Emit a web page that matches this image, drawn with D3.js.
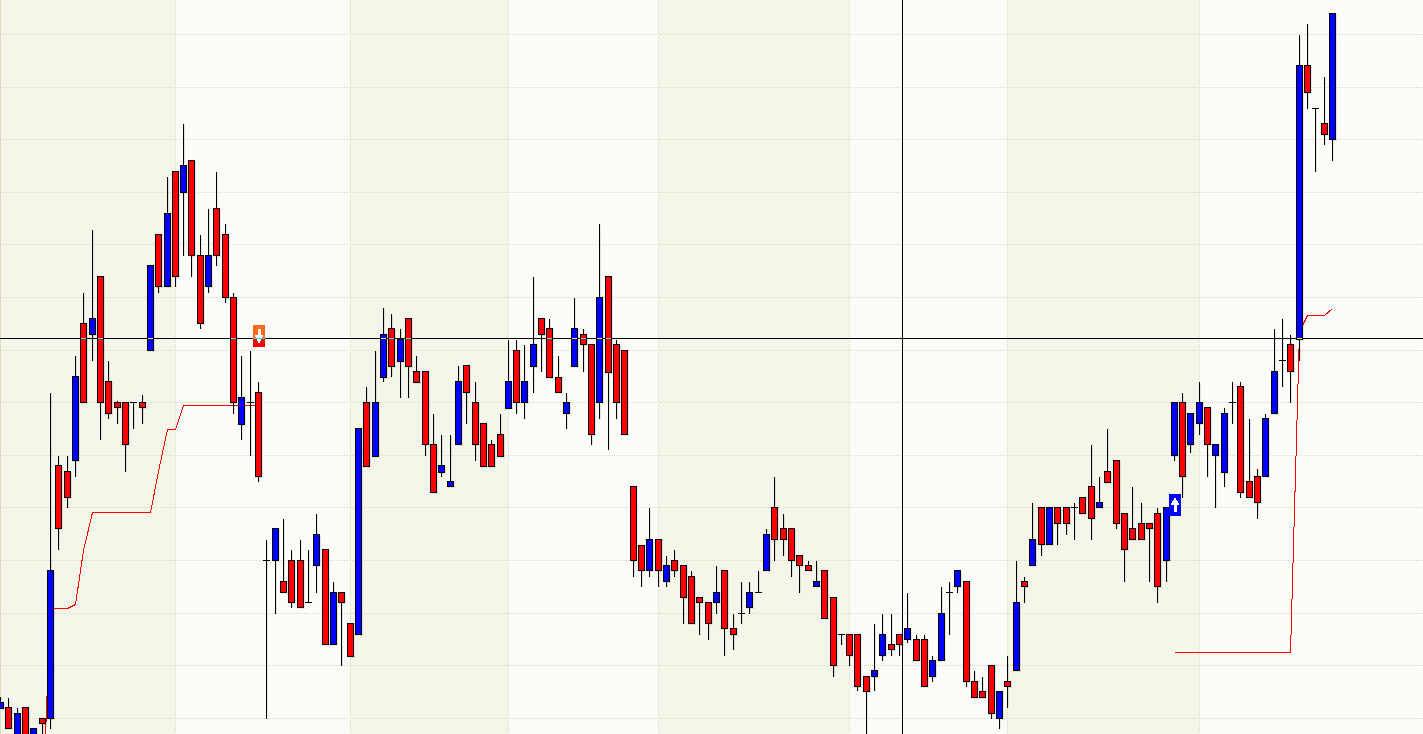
<!DOCTYPE html>
<html><head><meta charset="utf-8">
<style>html,body{margin:0;padding:0;background:#fbfcf7;overflow:hidden}svg{display:block}</style>
<script src="https://cdn.jsdelivr.net/npm/d3@7/dist/d3.min.js"></script></head>
<body><svg id="c" width="1423" height="734" shape-rendering="crispEdges"></svg>
<script>
const opens=[10,11,-30,11,-42,0,0,253,247,258,395,384,442,337,316,316,316,316,368,484,432,547,526,558,463,432,510,484,421,294,316,326,158,158,137,158,158,116,153,169,74,126,95,84,316,262,341,390,357,400,347,347,274,246,232,274,353,316,295,274,284,310,368,316,352,400,390,341,305,352,384,374,316,442,374,368,232,173,148,179,137,158,153,142,121,116,116,148,90,105,111,126,148,211,190,190,163,153,132,148,121,84,84,84,42,42,63,74,84,79,79,79,42,58,126,132,137,37,27,53,0,37,48,137,153,211,174,211,211,211,221,232,211,247,258,205,190,195,195,205,158,263,316,274,295,311,263,246,316,332,237,242,242,305,358,374,379,653,610,595,579];
const closes=[16,-10,5,-35,-10,-5,148,190,221,342,316,400,316,305,311,274,316,311,453,432,505,442,553,463,395,463,463,421,316,321,316,242,158,190,126,116,111,116,184,74,126,116,62,290,252,316,384,352,379,352,336,274,226,253,237,337,326,274,252,252,262,337,316,337,374,384,341,326,316,390,374,284,421,346,316,284,158,148,179,148,153,148,121,95,116,95,126,90,84,105,126,126,184,179,179,158,153,148,137,100,53,84,63,32,27,48,84,69,74,90,58,32,58,105,126,148,37,21,21,5,27,32,116,132,179,174,211,195,195,211,205,200,216,236,195,169,179,179,190,132,211,316,242,305,316,274,274,305,316,226,221,216,300,347,358,347,653,626,610,584,705];
const highs=[21,20,10,11,-10,0,325,262,262,362,425,488,442,357,317,316,316,323,453,484,541,547,594,558,483,509,546,494,425,362,367,336,178,190,199,168,178,168,204,169,136,126,95,290,331,367,410,404,389,400,362,347,304,283,283,352,353,336,295,278,304,378,378,373,441,400,399,362,325,420,389,374,494,442,378,368,232,173,210,179,162,168,153,147,121,116,152,148,104,136,136,147,189,241,204,190,163,157,157,148,121,84,84,84,42,94,104,104,84,125,83,83,62,131,136,148,137,47,41,53,27,62,157,141,215,211,211,211,211,215,221,273,241,289,258,205,231,215,195,210,211,316,325,305,336,311,274,310,336,336,299,249,304,389,399,383,683,694,610,641,705];
const lows=[10,-10,-30,-35,-42,-25,-10,169,211,242,316,358,279,300,295,247,290,295,368,426,432,432,463,442,390,426,453,416,305,279,263,237,0,105,126,111,111,116,126,74,74,53,62,84,252,262,337,342,321,321,336,263,226,242,232,274,295,258,252,252,262,310,305,300,326,347,341,326,290,352,347,274,300,269,300,284,142,132,142,132,132,142,95,95,84,79,105,63,69,95,105,126,148,158,163,142,126,148,132,100,42,74,53,28,-22,28,58,63,63,76,58,32,37,58,84,126,32,21,21,0,-10,11,48,116,153,163,174,174,184,179,205,179,211,236,190,137,179,179,137,116,137,258,221,266,284,242,211,232,295,221,221,200,242,305,332,316,358,610,547,574,558];

const sessionBreaks=[0,21,42,61,79,102,121,144];
const gridLevels=[0,52.6,105.2,157.8,210.4,263,315.6,368.2,420.8,473.4,526,578.6,631.2,683.8];

const stopA_index=[5,6,7,8,9,10,11,18,19,20,21,22,31];
const stopA_level=[-92,110,110,110,114,168,206,206,247,289,289,313,313];
const stopB_index=[141,155,156,157,159,160];
const stopB_level=[66,66,387,403,403,410];

const signalIndex=[31,141];
const signalLevel=[393,224];
const signalDir=["down","up"];

const crossIndexPx=902;
const crossLevel=380;

const W=1423,H=734,n=opens.length;
const colRed="#ff0000",colBlue="#0000ff",ink="#000000",bandDark="#f5f5e9",bandLight="#fbfcf7",gridCol="#dcdcc2";
const x=d3.scaleLinear().domain([0,160]).range([0,1332]);
const y=d3.scaleLinear().domain([0,684]).range([718.3,34.3]);
const X=i=>Math.round(x(i));
const Y=v=>Math.floor(y(v));
const svg=d3.select("#c");

// session bands
const edges=sessionBreaks.map(X).concat([W]);
svg.append("g").selectAll("rect").data(d3.range(edges.length-1)).join("rect")
  .attr("x",k=>edges[k]).attr("y",0).attr("width",k=>edges[k+1]-edges[k]).attr("height",H)
  .attr("fill",k=>k%2===0?bandDark:bandLight);

// grid
svg.append("g").selectAll("line").data(gridLevels).join("line")
  .attr("x1",0).attr("x2",W).attr("y1",d=>Y(d)+.5).attr("y2",d=>Y(d)+.5)
  .attr("stroke",gridCol).attr("stroke-dasharray","1,1");
svg.append("g").selectAll("line").data(sessionBreaks).join("line")
  .attr("x1",d=>X(d)+.5).attr("x2",d=>X(d)+.5).attr("y1",0).attr("y2",H)
  .attr("stroke",gridCol).attr("stroke-dasharray",d=>d===0?null:"1,1");

// stop lines
const line=d3.line().x(d=>X(d[0])+.5).y(d=>Y(d[1])+.5);
[[stopA_index,stopA_level],[stopB_index,stopB_level]].forEach(([a,b])=>{
  svg.append("path").attr("d",line(a.map((v,k)=>[v,b[k]])))
    .attr("fill","none").attr("stroke",colRed).attr("stroke-width",1);
});

const idx=d3.range(n);
const bodyTop=i=>Y(Math.max(opens[i],closes[i]));
const bodyBot=i=>Y(Math.min(opens[i],closes[i]));
const isDoji=i=>opens[i]===closes[i];

// soft shadows
const sh=svg.append("g").attr("fill","rgba(0,0,0,0.09)");
sh.selectAll("rect.w").data(idx).join("rect").attr("class","w")
  .attr("x",i=>X(i)+1).attr("y",i=>Y(highs[i])+1).attr("width",1).attr("height",i=>Math.max(0,Y(lows[i])-Y(highs[i])));
sh.selectAll("rect.b").data(idx.filter(i=>!isDoji(i))).join("rect").attr("class","b")
  .attr("x",i=>X(i)-2).attr("y",i=>bodyTop(i)+1).attr("width",7).attr("height",i=>bodyBot(i)-bodyTop(i)+1);

// wicks
svg.append("g").selectAll("line").data(idx).join("line")
  .attr("x1",i=>X(i)+.5).attr("x2",i=>X(i)+.5)
  .attr("y1",i=>Y(highs[i])).attr("y2",i=>Y(lows[i])+1)
  .attr("stroke",ink);
// doji ticks
svg.append("g").selectAll("line").data(idx.filter(isDoji)).join("line")
  .attr("x1",i=>X(i)-3).attr("x2",i=>X(i)+4)
  .attr("y1",i=>Y(opens[i])+.5).attr("y2",i=>Y(opens[i])+.5)
  .attr("stroke",ink);
// bodies
svg.append("g").selectAll("rect").data(idx.filter(i=>!isDoji(i))).join("rect")
  .attr("x",i=>X(i)-3+.5).attr("y",i=>bodyTop(i)+.5)
  .attr("width",6).attr("height",i=>bodyBot(i)-bodyTop(i))
  .attr("fill",i=>closes[i]>opens[i]?colBlue:colRed)
  .attr("stroke",ink).attr("stroke-width",1);

// signal boxes
const sg=svg.append("g").selectAll("g").data(signalIndex.map((v,k)=>k)).join("g")
  .attr("transform",k=>`translate(${X(signalIndex[k])-5},${Y(signalLevel[k])})`);
sg.append("rect").attr("width",12).attr("height",22).attr("fill",k=>signalDir[k]==="up"?colBlue:colRed);
sg.filter(k=>signalDir[k]==="down").append("rect").attr("width",12).attr("height",Y(crossLevel)-Y(signalLevel[0])).attr("fill","#ff6a1e");
const arrowUp=[[6,3],[10.5,11],[7.5,11],[7.5,18],[4.5,18],[4.5,11],[1.5,11]];
const arrowDown=[[4.5,4],[7.5,4],[7.5,10],[10.5,10],[6,18.5],[1.5,10],[4.5,10]];
sg.append("polygon").attr("fill","#fff").attr("points",k=>(signalDir[k]==="up"?arrowUp:arrowDown).map(p=>p.join(",")).join(" "));

// crosshair
const cy=Y(crossLevel);
svg.append("line").attr("x1",0).attr("x2",W).attr("y1",cy+.5).attr("y2",cy+.5).attr("stroke",ink);
svg.append("line").attr("x1",crossIndexPx+.5).attr("x2",crossIndexPx+.5).attr("y1",0).attr("y2",H).attr("stroke",ink);
svg.append("g").selectAll("rect").data(idx.filter(i=>!isDoji(i)&&bodyTop(i)<cy&&bodyBot(i)>cy)).join("rect")
  .attr("x",i=>X(i)-2).attr("y",cy).attr("width",5).attr("height",1)
  .attr("fill",i=>closes[i]>opens[i]?"#ffff00":"#00ffff");
svg.append("g").selectAll("rect").data(signalIndex.map((v,k)=>k).filter(k=>Y(signalLevel[k])<cy&&Y(signalLevel[k])+22>cy)).join("rect")
  .attr("x",k=>X(signalIndex[k])-5).attr("y",cy).attr("width",12).attr("height",1).attr("fill","#00ffff");
</script></body></html>
